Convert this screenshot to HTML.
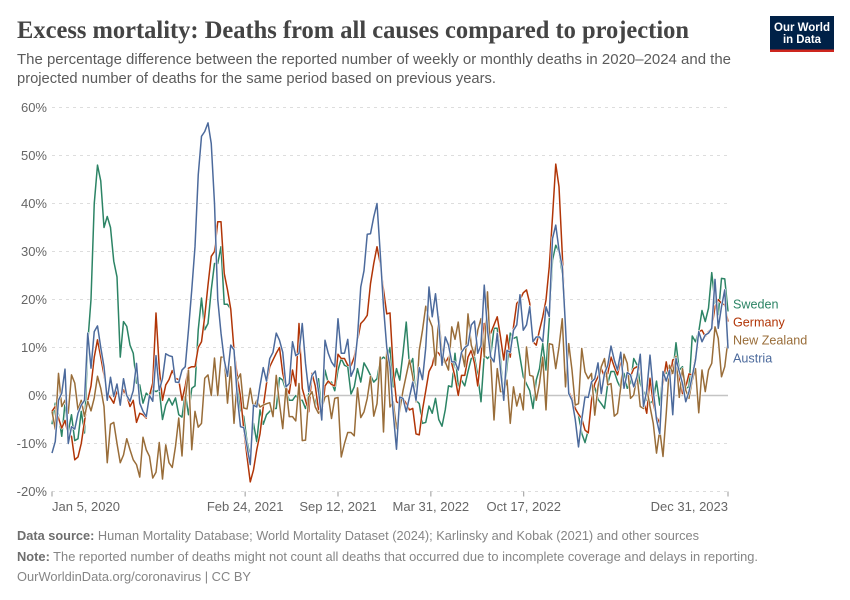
<!DOCTYPE html>
<html lang="en">
<head>
<meta charset="utf-8">
<title>Excess mortality: Deaths from all causes compared to projection</title>
<style>
html,body{margin:0;padding:0;background:#fff;}
svg{display:block;font-family:"Liberation Sans",sans-serif;}
</style>
</head>
<body>
<svg id="chart" xmlns="http://www.w3.org/2000/svg" width="850" height="600" viewBox="0 0 850 600">
  <rect x="0" y="0" width="850" height="600" fill="#ffffff"/>
  <text x="17" y="38" font-family="'Liberation Serif',serif" font-weight="700" font-size="25" fill="#444444" textLength="672" lengthAdjust="spacingAndGlyphs">Excess mortality: Deaths from all causes compared to projection</text>
  <text x="17" y="64" font-size="15" fill="#5b5b5b" textLength="714" lengthAdjust="spacingAndGlyphs">The percentage difference between the reported number of weekly or monthly deaths in 2020–2024 and the</text>
  <text x="17" y="83" font-size="15" fill="#5b5b5b" textLength="479" lengthAdjust="spacingAndGlyphs">projected number of deaths for the same period based on previous years.</text>

  <g>
    <rect x="770" y="16" width="64" height="36" fill="#002147"/>
    <rect x="770" y="49.5" width="64" height="2.5" fill="#ce261e"/>
    <text x="802" y="31" text-anchor="middle" font-size="12" font-weight="700" fill="#ffffff" textLength="56" lengthAdjust="spacingAndGlyphs">Our World</text>
    <text x="802" y="43" text-anchor="middle" font-size="12" font-weight="700" fill="#ffffff" textLength="38" lengthAdjust="spacingAndGlyphs">in Data</text>
  </g>

  <g id="y-axis"></g>
  <g id="x-axis"></g>
  <g id="series-lines"></g>
  <g id="legend"></g>

  <text x="17" y="540" font-size="13" fill="#858585" textLength="682" lengthAdjust="spacingAndGlyphs"><tspan font-weight="700" fill="#6e6e6e">Data source:</tspan> Human Mortality Database; World Mortality Dataset (2024); Karlinsky and Kobak (2021) and other sources</text>
  <text x="17" y="561" font-size="13" fill="#858585" textLength="741" lengthAdjust="spacingAndGlyphs"><tspan font-weight="700" fill="#6e6e6e">Note:</tspan> The reported number of deaths might not count all deaths that occurred due to incomplete coverage and delays in reporting.</text>
  <text x="17" y="581" font-size="13" fill="#858585" textLength="234" lengthAdjust="spacingAndGlyphs">OurWorldinData.org/coronavirus | CC BY</text>
</svg>

<script>
const startDate = "2020-01-05";
const endDate = "2023-12-31";
const seriesNames = ["Sweden", "Germany", "New Zealand", "Austria"];
const seriesColors = ["#2c8465", "#b13507", "#996d39", "#4c6a9c"];
const yTicks = [-20, -10, 0, 10, 20, 30, 40, 50, 60];
const xTickDates = ["2020-01-05", "2021-02-24", "2021-09-12", "2022-03-31", "2022-10-17", "2023-12-31"];
const xTickLabels = ["Jan 5, 2020", "Feb 24, 2021", "Sep 12, 2021", "Mar 31, 2022", "Oct 17, 2022", "Dec 31, 2023"];

const sweden = [
  -6,-1.6,-4,-8.5,-1.6,-7.5,-4,-9.4,-9,-3.3,
  -7.8,11,20,40,48,44.7,35,37.3,35,28,
  24.7,8,15.4,14.4,10.5,8.8,2.6,2.2,-1.6,0.5,
  -0.2,1.2,0.8,1.2,-5,-2,-0.6,-2,-0.5,-4,
  -4.5,0.5,-4,1.5,2,13.7,20.3,13.7,15,22,
  27.5,27.5,31,19,19,18,9.5,3,-3,-4.4,
  -9.6,-12.7,-5.8,-9.6,-3,-6,-4,-3.3,-2.7,-2.7,
  3.7,3.2,1,-1,-1,0,-1,-1,-2.7,0.4,
  0.4,-2.4,3.5,-3.7,5.3,2.6,2.8,1,5.3,7.7,
  6.3,6,0.3,1.8,5.6,2.8,6.8,5.6,4.2,2.8,
  3.5,7.4,8,7.4,10,1.8,5.6,3.2,8.8,15.3,
  6,7.7,-1,-1.7,-5.8,-5.6,-2.2,-3.7,-0.6,-5,
  -6.4,-3,2,1.8,8.8,2,3.2,2,5,7.7,
  8,4.2,-1.3,8.4,7.7,8.4,14,14,7.4,-0.6,
  6,13,11.9,12.2,8,3.9,2.4,1,-2.7,3.2,
  5.6,10.8,5.3,15.7,28.2,31.3,30,25.4,13.6,0.4,
  -0.6,-2.4,-4.1,-7.9,-9.8,-7.2,-1,1.8,-0.8,-1.7,
  -2.7,2.5,5,5,2.9,1.5,4.6,1.5,2.5,7.7,
  6.4,2.5,0.8,-1,-1.6,-1,3,-2,4.6,4.6,
  6,4.6,11,5.3,6,1.5,1.8,12.4,11.2,13.3,
  17.7,15.4,18.2,25.6,19.2,16.8,24.4,24.3,17.5
];
const germany = [
  -3.3,-2.3,-4.7,-6.8,-5.2,-8.2,-8.5,-13.4,-12.8,-10,
  -5.4,-1,2,8,11.6,8,4.3,0.5,-0.5,-1.6,
  1,-1.2,1.2,0,-2.3,-1,-5.6,-3.7,-4,-4.7,
  0,2.6,17.2,5.7,-1,2.2,3.3,5.2,3.6,3.3,
  -1,2,5.7,6,6,10,11.2,16.5,23,29,
  30,36.2,36.2,25.4,22,18,9.5,4,-0.2,-7,
  -12.7,-18,-15.5,-11.3,-8,-2.4,2.5,6,7.4,8.8,
  10,4.6,1.8,0.4,5.3,2,15,1.5,-1,-3.4,
  4.6,2,-3,-4.4,2,3,2.3,2,8.6,7.7,
  7.7,6.3,6.2,8,11.5,15,15.7,16.7,23.3,27.5,
  31,27.5,22,17,17.2,5.3,-1.3,-1.7,-0.6,-1.7,
  -3,-2.7,-8,-8.2,-3,1,5,6.3,9.4,8.8,
  7.7,6.7,8,6.7,3.9,0,4.2,4.2,8,9.4,
  6.7,2,8.4,15,13,13,14.7,16.4,12.2,7.4,
  12.6,8,14.3,19.2,19.9,21.4,22,19.2,11.2,10.5,
  13.6,16.4,19.9,26.8,37.2,48.2,43.5,29.6,14.3,0.8,
  -0.6,-2.7,-3.9,-4.8,-7.2,-7.8,-1,2.5,3.9,5.6,
  3.9,4.6,8,6,4.3,7.4,1.8,4.3,4,5.6,
  6,6,-1,-3.7,3.6,-1.6,-4.4,-5.8,2.5,7,
  3,7.4,7.7,3.6,0.4,1.8,4.5,4.3,8,13.3,
  13.6,12.3,13.3,14,18.5,20,19.2,18.9,15.4
];
const newZealand = [
  -3.3,-7,4.6,-2.3,-1,-3.7,4.3,2.6,-3,-1,
  -4.4,-1.2,-3.2,-0.5,4,1.5,-2.3,-14,-6,-5.6,
  -10,-14,-12.4,-9,-11.3,-13.4,-14.4,-17,-8.7,-11.3,
  -12.7,-17.2,-16,-9.8,-17.4,-10.3,-14,-15,-10.6,-4.7,
  -12.6,-1,5.3,-11.3,-3.3,-6.6,-5.8,3.6,4.3,0,
  7.8,0,8,8,-1.6,6,-5.8,3.3,4.5,-2.6,
  -2.8,1.5,-2.6,-1,-2.4,-2,-1.7,-1.5,-4.4,4.2,
  -1.7,-6.9,1.8,-4.4,-4.4,-5.3,2.5,-9.4,-9.3,-0.3,
  0.8,-2.4,-3.7,-2.7,-0.3,0,-4.8,-0.6,-0.4,-12.8,
  -10,-7.7,-7.7,-8.4,1.6,-4.6,-3.4,-0.6,4,-4.3,
  -1.7,8,-7.6,9.4,-2.4,-1.3,-6.9,-3,1,4.2,
  7.4,3.9,-1.3,9.4,13.6,18.6,16,14.3,6.3,16.4,
  8.8,7,5.3,14.3,11.7,15.3,9.4,6,17,10.5,
  8.4,13.6,16,8,21.6,7.4,-5.1,5.6,0.8,0.8,
  3.2,-5.8,1.8,-2.2,0.4,-3,10.1,4.2,4,-1,
  2.5,8,-3,10.8,10.6,5.6,10.1,16,1.8,10.8,
  5.3,-2,-1.7,9.8,4.9,3.5,4.6,-4.1,1.8,6,
  7.7,2.2,2.5,-4.3,-3.7,1.8,8.6,6.7,-0.6,0.1,
  4.3,-2.3,-2.7,1.5,-2.3,-5.8,-12,-7.2,-12.7,-3.7,
  6.3,4.6,8.2,-0.4,5.6,1.1,-0.6,3.2,5.6,-3.6,
  5.3,0.8,5.3,6.7,14.3,11.9,3.9,6,11.6
];
const austria = [
  -12,-9.6,-1,0.5,5.5,-10,-6.5,-7,-3.7,-2,
  -1,13,5.7,13.3,14.5,10,6,-1,3.8,-0.2,
  2.4,-2,3.5,0,-1.2,1,6.7,-1.6,-3.3,-4.4,
  0,-1.2,8.3,1,3.6,8.7,8.3,8.1,2.8,2.7,
  5.3,6,13.7,22,31,46,54,55,56.8,52.5,
  40,20,13,7.4,4,10.5,9.5,-0.2,-6.5,-6.7,
  -10.6,-14.4,-2,-2.4,2,5.8,3,7.7,9,13,
  11.5,9,1.8,2.5,11.2,8.3,8.8,15,6.7,0.8,
  4.2,5.1,1,-5.1,11.5,8.8,7,6,16,8.8,
  8.8,11.7,4,5.6,12.2,22.6,26,33.6,33.7,37.2,
  40,29.6,18.5,10,6,-3.7,-11.2,-0.3,-0.6,-3.4,
  -0.3,2.8,-1,5.8,3.3,10,22.6,16.4,21.2,15,
  6.3,12.2,10.5,7,7,5.3,9,10,10.5,14.7,
  15.5,8.8,10.5,23,13.6,8,7,13,5.3,-1,
  9.4,9,13.6,14.7,21,13.6,14.7,18.5,11.2,12.2,
  12.2,11.2,18.5,16.4,32.7,35.5,30.3,26.8,14.3,0.4,
  -1,-5,-10.7,-5,-0.3,-0.4,2.8,3.5,6.8,0.4,
  4.6,6.3,10.3,7.4,5.3,9,1.5,4.8,4.3,1.8,
  4,8.6,-2.3,1,8.4,1,-5,-8,5,3,
  5.3,-4,7.7,5,2.5,-1.3,0.8,4,7.4,13.3,
  11.2,12.6,13,14,24.2,14,18.5,22,9.8
];
const seriesValues = [sweden, germany, newZealand, austria];

const NS = "http://www.w3.org/2000/svg";
const plotLeft = 52, plotRight = 728, plotTop = 107.5, plotBottom = 491.5;
const DAY = 86400000, WEEK = 7 * DAY;
const tMin = Date.parse(startDate), tMax = Date.parse(endDate);
const yMin = yTicks[0], yMax = yTicks[yTicks.length - 1];

function xScale(t) { return plotLeft + (t - tMin) / (tMax - tMin) * (plotRight - plotLeft); }
function yScale(v) { return plotBottom - (v - yMin) / (yMax - yMin) * (plotBottom - plotTop); }
function make(tag, attrs, parent, text) {
  const el = document.createElementNS(NS, tag);
  for (const k in attrs) el.setAttribute(k, attrs[k]);
  if (text !== undefined) el.textContent = text;
  parent.appendChild(el);
  return el;
}

const yAxis = document.getElementById("y-axis");
yTicks.forEach(function (v) {
  const y = yScale(v);
  const grid = make("line", v === 0
    ? { x1: plotLeft, x2: plotRight, y1: y, y2: y, stroke: "#c4c4c4", "stroke-width": 1.5 }
    : { x1: plotLeft, x2: plotRight, y1: y, y2: y, stroke: "#dddddd", "stroke-width": 1, "stroke-dasharray": "3,4" }, yAxis);
  
  
  const label = make("text", { x: 47, y: y + 4.5, "text-anchor": "end", "font-size": 13, fill: "#666666" }, yAxis, v + "%");
  
  
});

const xAxis = document.getElementById("x-axis");
xTickDates.forEach(function (d, i) {
  const x = xScale(Date.parse(d));
  const tick = make("line", { x1: x, x2: x, y1: plotBottom, y2: plotBottom + 5, stroke: "#999999", "stroke-width": 1 }, xAxis);
  
  
  const anchor = i === 0 ? "start" : (i === xTickDates.length - 1 ? "end" : "middle");
  const label = make("text", { x: x, y: 511, "text-anchor": anchor, "font-size": 13, fill: "#666666" }, xAxis, xTickLabels[i]);
  
  
});

const linesGroup = document.getElementById("series-lines");
seriesValues.forEach(function (values, s) {
  const d = values.map(function (v, i) {
    return (i ? "L" : "M") + xScale(tMin + i * WEEK).toFixed(2) + " " + yScale(v).toFixed(2);
  }).join("");
  const halo = make("path", { d: d, fill: "none", stroke: "#ffffff", "stroke-width": 2.5, "stroke-linejoin": "round" }, linesGroup);
  
  
  const line = make("path", { d: d, fill: "none", stroke: seriesColors[s], "stroke-width": 1.5, "stroke-linejoin": "round" }, linesGroup);
  
  
});

const legend = document.getElementById("legend");
seriesNames.forEach(function (name, s) {
  const entry = make("text", { x: 733, y: 308.5 + s * 18, "font-size": 12.6, fill: seriesColors[s] }, legend, name);
  
  
});
</script>
</body>
</html>
